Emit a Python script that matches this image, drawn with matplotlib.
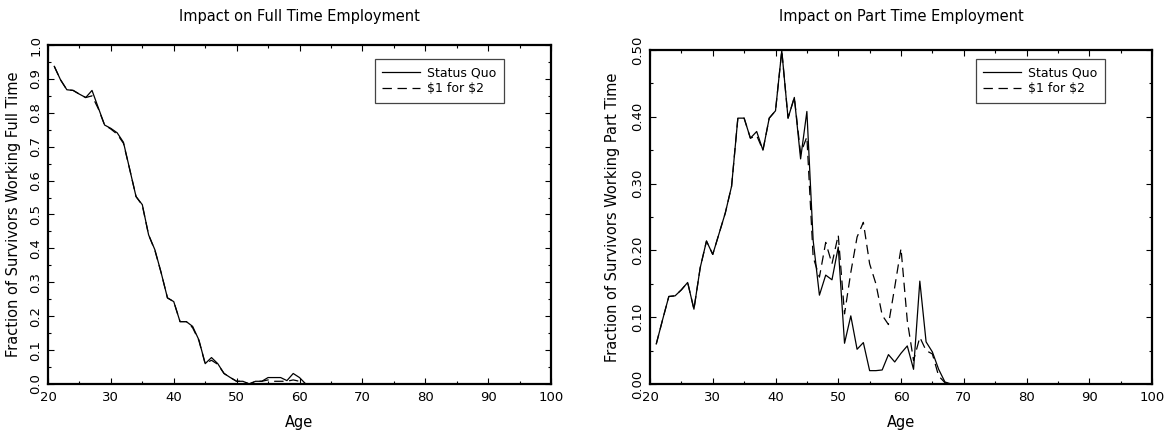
import matplotlib
matplotlib.use("Agg")
import matplotlib.pyplot as plt
from matplotlib.ticker import MultipleLocator, FormatStrFormatter
from matplotlib.transforms import ScaledTranslation

# Employment by age under the two policies, ages 21-100.
ages = list(range(21, 101))

full_time_status_quo = [
    0.937, 0.897, 0.868, 0.866, 0.855, 0.845, 0.866, 0.815, 0.764, 0.754,
    0.741, 0.713, 0.633, 0.553, 0.529, 0.440, 0.396, 0.328, 0.254, 0.243,
    0.184, 0.184, 0.170, 0.130, 0.060, 0.078, 0.060, 0.031, 0.019, 0.008,
    0.008, 0.000, 0.008, 0.008, 0.019, 0.019, 0.019, 0.010, 0.031, 0.019,
    0.000,
] + [0.0] * 39
full_time_1_for_2 = [
    0.937, 0.897, 0.868, 0.866, 0.855, 0.845, 0.850, 0.812, 0.764, 0.752,
    0.737, 0.710, 0.633, 0.553, 0.527, 0.440, 0.394, 0.328, 0.254, 0.243,
    0.184, 0.184, 0.166, 0.128, 0.060, 0.070, 0.058, 0.031, 0.019, 0.008,
    0.008, 0.000, 0.008, 0.008, 0.012, 0.008, 0.008, 0.008, 0.012, 0.008,
    0.000,
] + [0.0] * 39

part_time_status_quo = [
    0.060, 0.096, 0.131, 0.132, 0.141, 0.152, 0.112, 0.174, 0.214, 0.194,
    0.225, 0.256, 0.296, 0.398, 0.398, 0.368, 0.378, 0.350, 0.398, 0.409,
    0.499, 0.398, 0.429, 0.337, 0.408, 0.215, 0.133, 0.163, 0.156, 0.205,
    0.061, 0.102, 0.052, 0.062, 0.020, 0.020, 0.021, 0.044, 0.033, 0.046,
    0.057, 0.022, 0.154, 0.063, 0.048, 0.022, 0.003, 0.000,
] + [0.0] * 32
part_time_1_for_2 = [
    0.060, 0.096, 0.131, 0.132, 0.141, 0.152, 0.112, 0.174, 0.214, 0.194,
    0.225, 0.256, 0.296, 0.398, 0.398, 0.368, 0.372, 0.350, 0.398, 0.409,
    0.499, 0.398, 0.429, 0.345, 0.370, 0.190, 0.160, 0.212, 0.180, 0.223,
    0.105, 0.167, 0.220, 0.242, 0.180, 0.150, 0.103, 0.089, 0.145, 0.203,
    0.095, 0.035, 0.070, 0.050, 0.045, 0.012, 0.002, 0.000,
] + [0.0] * 32

W, H = 1165, 432
fig = plt.figure(figsize=(W / 100, H / 100), dpi=100)
plt.rcParams["font.family"] = "DejaVu Sans"


def px_box(left, top, right, bottom):
    return [left / W, 1 - bottom / H, (right - left) / W, (bottom - top) / H]


panels = [
    dict(box=px_box(48, 45, 551, 384), series=(full_time_status_quo, full_time_1_for_2),
         title="Impact on Full Time Employment", title_pad=17,
         ylabel="Fraction of Survivors Working Full Time",
         ymax=1.0, fmt="%.1f", legend_at=(504, 59), ylabelpad=6),
    dict(box=px_box(650, 50, 1152, 384), series=(part_time_status_quo, part_time_1_for_2),
         title="Impact on Part Time Employment", title_pad=21,
         ylabel="Fraction of Survivors Working Part Time",
         ymax=0.5, fmt="%.2f", legend_at=(1105, 59), ylabelpad=8),
]

for p in panels:
    ax = fig.add_axes(p["box"])
    sq, alt = p["series"]
    ax.plot(ages, sq, color="black", lw=0.9, label="Status Quo", clip_on=False)
    ax.plot(ages, alt, color="black", lw=0.9, dashes=(7.5, 4.5), label=r"\$1 for \$2",
            clip_on=False)

    ax.set_xlim(20, 100)
    ax.set_ylim(0, p["ymax"])
    ax.xaxis.set_major_locator(MultipleLocator(10))
    ax.xaxis.set_minor_locator(MultipleLocator(5))
    ax.yaxis.set_major_locator(MultipleLocator(0.1))
    ax.yaxis.set_minor_locator(MultipleLocator(0.05))
    ax.yaxis.set_major_formatter(FormatStrFormatter(p["fmt"]))

    ax.tick_params(which="both", direction="in", top=True, right=True, width=0.8,
                   labelsize=9.5, color="black")
    ax.tick_params(which="major", length=4.5)
    ax.tick_params(which="minor", length=2.5)
    ax.tick_params(axis="x", pad=5)
    ax.tick_params(axis="y", pad=4)
    for lab in ax.get_yticklabels():
        lab.set_rotation(90)
        lab.set_va("center")
    first = ax.get_xticklabels()[0]
    first.set_transform(first.get_transform() + ScaledTranslation(7 / 100, 0, fig.dpi_scale_trans))

    for s in ax.spines.values():
        s.set_linewidth(1.6)

    ax.set_title(p["title"], fontsize=10.5, pad=p["title_pad"])
    ax.set_xlabel("Age", fontsize=10.5, labelpad=8)
    ax.set_ylabel(p["ylabel"], fontsize=10.5, labelpad=p["ylabelpad"])

    lx, ly = p["legend_at"]
    leg = ax.legend(loc="upper right", bbox_to_anchor=(lx / W, 1 - ly / H),
                    bbox_transform=fig.transFigure, fontsize=9, fancybox=False,
                    framealpha=1, edgecolor="#444444", handlelength=3.0,
                    handletextpad=0.6, labelspacing=0.2, borderpad=0.6,
                    borderaxespad=0)
    leg.get_frame().set_linewidth(0.9)

fig.savefig("out.png", dpi=100)
